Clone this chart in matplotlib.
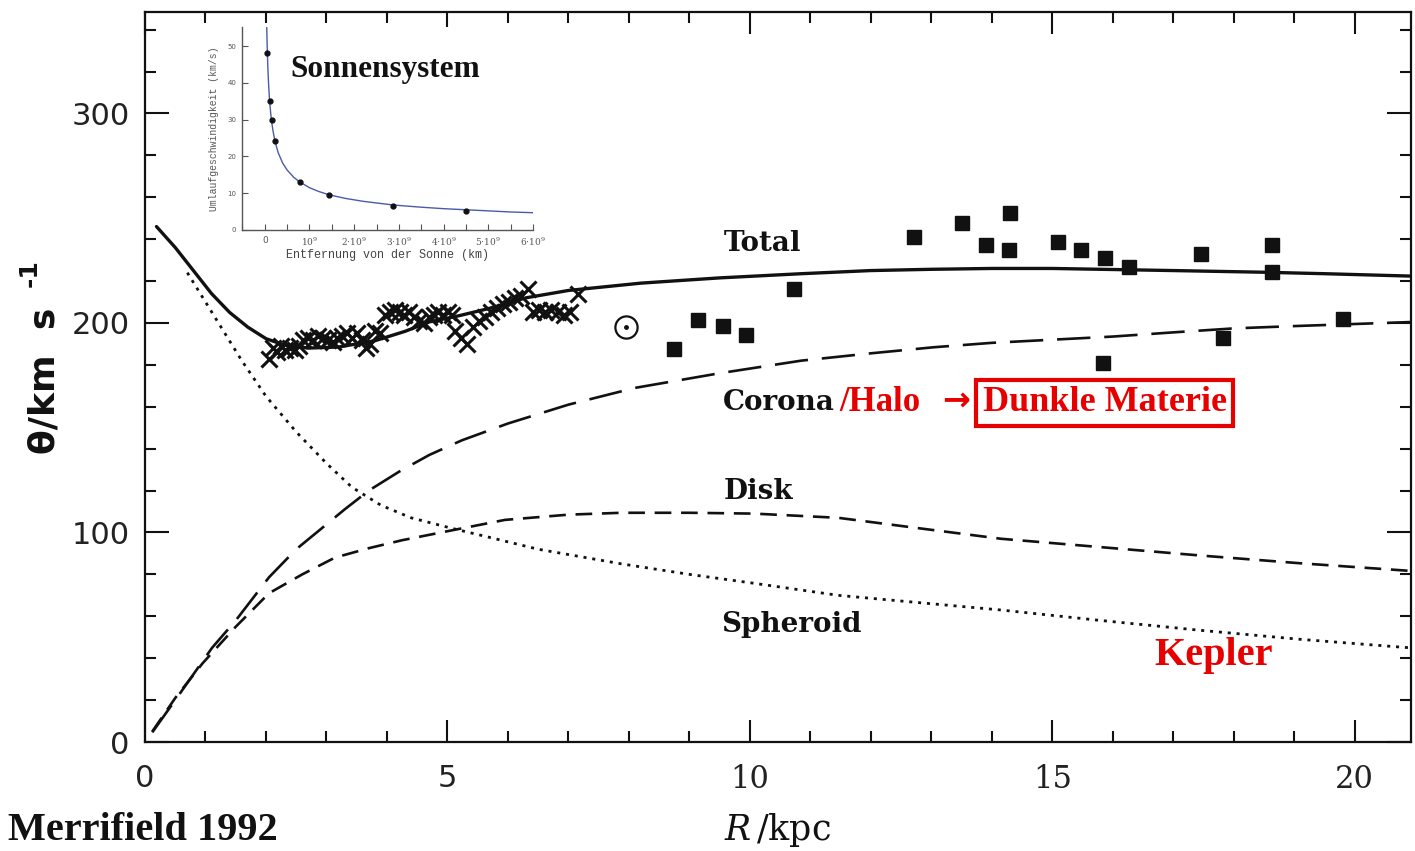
import matplotlib
matplotlib.use("Agg")
import matplotlib.pyplot as plt

plt.rcParams['lines.scale_dashes'] = False
plt.rcParams['mathtext.fontset'] = 'dejavuserif'

# ---------------- data ----------------
total_R = [0.19, 0.5, 0.8, 1.1, 1.4, 1.7, 2.0, 2.3, 2.7, 3.2, 3.8, 4.3, 4.7, 5.2, 5.7, 6.3, 7.0, 8.2,
           9.5, 10.85, 12.0, 13.0, 14.0, 15.0, 15.8, 17.0, 18.5, 19.5, 21.0]
total_v = [246, 236, 225, 214, 205, 198, 192.5, 189.5, 188, 188.5, 191.5, 196, 200.5, 203.5, 207, 212,
           215.5, 219, 221.5, 223.5, 225, 225.6, 226, 226, 225.6, 225, 224.2, 223.5, 222.3]

corona_R = [0.12, 0.5, 1.11, 1.5, 2.05, 2.5, 2.88, 3.3, 3.7, 4.2, 4.7, 5.24, 6.0, 7.0, 8.1, 9.5, 10.85,
            12.0, 13.04, 14.0, 15.0, 16.0, 17.0, 18.0, 19.0, 20.0, 21.0]
corona_v = [4.6, 20, 45, 58, 78.6, 92, 101, 111, 120, 129, 137, 144, 152, 161, 169, 176, 182,
            185.5, 188.4, 190.5, 192, 193.5, 195.5, 197.4, 198.5, 199.5, 200.5]

disk_R = [0.12, 0.5, 0.95, 1.5, 2.05, 2.6, 3.14, 3.7, 4.25, 5.07, 5.95, 7.0, 7.88, 9.0, 10.07, 11.46,
          12.8, 14.15, 15.8, 17.45, 19.1, 20.75, 21.0]
disk_v = [5, 21, 37.5, 55, 71, 80, 88, 92.5, 96.3, 101, 106, 108.5, 109.4, 109.4, 109, 107,
          102, 97, 93, 89, 85.3, 82, 81.5]

spher_R = [0.7, 1.0, 1.3, 1.6, 2.0, 2.5, 3.0, 3.42, 3.9, 4.4, 5.07, 5.69, 6.5, 7.88, 9.0, 10.08, 11.46,
           12.8, 14.15, 15.8, 17.45, 19.1, 20.8, 21.0]
spher_v = [224, 210, 196, 182, 165, 148, 133, 121.6, 113, 107, 102, 97.7, 92, 85, 80, 75.7, 70,
           66.5, 63, 58, 53.3, 49, 45.2, 44.8]

cross_R = [2.05, 2.12, 2.18, 2.25, 2.32, 2.40, 2.48, 2.55, 2.62, 2.70, 2.78, 2.86, 2.94, 3.02, 3.10,
           3.18, 3.26, 3.34, 3.42, 3.50, 3.58, 3.66, 3.72, 3.80, 3.88, 3.97, 4.05, 4.13, 4.21, 4.29,
           4.37, 4.45, 4.53, 4.61, 4.69, 4.77, 4.85, 4.93, 5.01, 5.08, 5.12, 5.22, 5.32, 5.42, 5.52,
           5.62, 5.72, 5.82, 5.92, 6.02, 6.12, 6.22, 6.34, 6.42, 6.52, 6.62, 6.72, 6.82, 6.92, 7.02, 7.16]
cross_v = [183, 188, 186, 189, 187, 188, 187, 189, 192, 193, 192, 194, 193, 192, 191,
           193, 194, 195, 193, 195, 192, 188, 190, 196, 195, 204, 205, 206, 205, 204,
           205, 203, 201, 200, 203, 204, 205, 204, 205, 204, 196, 193, 190, 198, 201,
           203, 205, 207, 209, 210, 212, 213, 216, 205, 206, 205, 206, 205, 204, 205, 214]

square_R = [8.75, 9.15, 9.55, 9.93, 10.73, 12.72, 13.51, 13.9, 14.3, 14.28, 15.09, 15.47, 15.87,
            16.26, 15.83, 17.45, 18.64, 18.64, 17.83, 19.81]
square_v = [187.4, 201.6, 198.5, 194.1, 216, 240.8, 247.6, 237.1, 252.7, 234.7, 238.5, 234.7, 230.8,
            226.5, 180.8, 232.7, 237.1, 224.2, 192.7, 201.7]

sun_R = [7.95]
sun_v = [197.9]

# inset: solar system (distance in 1e9 km, speed in km/s)
planet_d = [0.058, 0.108, 0.150, 0.228, 0.778, 1.43, 2.87, 4.50]
planet_v = [48.2, 35.2, 30.0, 24.3, 13.0, 9.5, 6.6, 5.3]
kep_d = [0.044, 0.05, 0.058, 0.07, 0.085, 0.108, 0.13, 0.15, 0.18, 0.228, 0.3, 0.4, 0.5, 0.65, 0.778,
         1.0, 1.2, 1.43, 1.8, 2.2, 2.87, 3.5, 4.0, 4.5, 5.0, 5.5, 6.0]
kep_v = [55.0, 51.6, 47.9, 43.6, 39.6, 35.0, 32.0, 29.8, 27.2, 24.1, 21.0, 18.2, 16.3, 14.3, 13.1,
         11.5, 10.5, 9.6, 8.6, 7.8, 6.8, 6.2, 5.8, 5.5, 5.2, 4.9, 4.7]

xticks_main = [0, 5, 10, 15, 20]
xtick_labels = ['0', '5', '10', '15', '20']
yticks_main = [0, 100, 200, 300]
inset_xticks = [0, 1, 2, 3, 4, 5, 6]
inset_xlabels = ['0', r'$10^9$', r'$2{\cdot}10^9$', r'$3{\cdot}10^9$', r'$4{\cdot}10^9$',
                 r'$5{\cdot}10^9$', r'$6{\cdot}10^9$']
inset_yticks = [0, 10, 20, 30, 40, 50]

# ---------------- figure ----------------
W, H = 1415, 851
fig = plt.figure(figsize=(W / 100, H / 100), dpi=100)
fig.patch.set_facecolor('white')

ax = fig.add_axes([145 / W, 1 - 742 / H, (1411 - 145) / W, (742 - 12) / H])
ax.set_xlim(0.04, 20.93)
ax.set_ylim(0, 348.4)

ink = '#111111'
ax.plot(total_R, total_v, color=ink, lw=2.4, solid_capstyle='round')
ax.plot(corona_R, corona_v, color=ink, lw=1.9, dashes=(24, 10))
ax.plot(disk_R, disk_v, color=ink, lw=1.9, dashes=(12, 7))
ax.plot(spher_R, spher_v, color=ink, lw=2.0, dashes=(2.2, 4.2))
ax.plot(cross_R, cross_v, ls='none', marker='x', ms=12, mew=2.2, color=ink)
ax.plot(square_R, square_v, ls='none', marker='s', ms=9.5, color=ink)
ax.plot(sun_R, sun_v, ls='none', marker='o', ms=16, mfc='none', mew=1.6, color=ink)
ax.plot(sun_R, sun_v, ls='none', marker='o', ms=2.5, color=ink)

for s in ax.spines.values():
    s.set_linewidth(1.6)
    s.set_color(ink)

ax.set_xticks(xticks_main)
ax.set_xticklabels(xtick_labels)
ax.set_xticks(range(0, 21), minor=True)
ax.set_yticks(yticks_main)
ax.set_yticks(range(0, 341, 20), minor=True)
ax.tick_params(which='both', direction='in', top=True, right=True, color=ink, width=1.5)
ax.tick_params(which='major', axis='x', length=16, labelsize=22, pad=16)
ax.tick_params(which='minor', axis='x', length=8)
ax.tick_params(which='major', axis='y', length=17, labelsize=22, pad=11)
ax.tick_params(which='minor', axis='y', length=8)
for lab in ax.get_yticklabels():
    lab.set_family('DejaVu Sans')
    lab.set_color('#222222')
for lab in ax.get_xticklabels():
    if lab.get_text() in ('0', '5'):
        lab.set_family('DejaVu Sans')
    else:
        lab.set_family('DejaVu Serif')
    lab.set_color('#222222')

serif = 'DejaVu Serif'
ax.text(9.56, 238, 'Total', fontsize=20, fontweight='bold', family=serif, color=ink, ha='left', va='center')
ax.text(9.56, 162, 'Corona', fontsize=20, fontweight='bold', family=serif, color=ink, ha='left', va='center')
red = '#e60000'
ax.text(11.48, 162, '/Halo', fontsize=25, fontweight='bold', family='Liberation Serif',
        color=red, ha='left', va='center')
ax.text(13.18, 163, '\u2192', fontsize=24, fontweight='bold', family='DejaVu Sans',
        color=red, ha='left', va='center')
ax.text(13.85, 162, 'Dunkle Materie', fontsize=26, fontweight='bold', family='Liberation Serif',
        color=red, ha='left', va='center',
        bbox=dict(boxstyle='square,pad=0.18', fc='none', ec=red, lw=3))
ax.text(9.56, 119.7, 'Disk', fontsize=20, fontweight='bold', family=serif, color=ink, ha='left', va='center')
ax.text(9.53, 56.2, 'Spheroid', fontsize=20, fontweight='bold', family=serif, color=ink, ha='left', va='center')
ax.text(17.67, 41.4, 'Kepler', fontsize=29, fontweight='bold', family='Liberation Serif', color=red,
        ha='center', va='center')

fig.text(45 / W, 1 - 381 / H, '\u03b8/km  s', rotation=90, fontsize=26, fontweight='bold',
         family='DejaVu Sans', color=ink, ha='center', va='center')
fig.text(30 / W, 1 - 273 / H, '-1', rotation=90, fontsize=18, fontweight='bold',
         family='DejaVu Sans', color=ink, ha='center', va='center')
fig.text(778 / W, 1 - 830 / H, r'$R\,$/kpc', fontsize=25, family=serif, color=ink, ha='center', va='center')
fig.text(8 / W, 1 - 830 / H, 'Merrifield 1992', fontsize=29, fontweight='bold', family='Liberation Serif',
         color=ink, ha='left', va='center')

# ---------------- inset ----------------
iax = fig.add_axes([242 / W, 1 - 230 / H, 291 / W, 203 / H])
iax.set_xlim(-0.51, 6.0)
iax.set_ylim(0, 55.2)
iax.plot(kep_d, kep_v, color='#4a5ba8', lw=1.0)
iax.plot(planet_d, planet_v, ls='none', marker='o', ms=3.5, color='#111111')
for k in ('top', 'right'):
    iax.spines[k].set_visible(False)
for k in ('left', 'bottom'):
    iax.spines[k].set_linewidth(1.0)
    iax.spines[k].set_color('#555555')
iax.set_xticks(inset_xticks)
iax.set_xticklabels(inset_xlabels)
iax.set_xticks([-0.5, 0.5, 1.5, 2.5, 3.5, 4.5, 5.5], minor=True)
iax.set_yticks(inset_yticks)
iax.tick_params(which='both', direction='in', length=4, width=0.8, color='#555555',
                labelsize=6.5, labelcolor='#555555', pad=4)
for lab in iax.get_yticklabels():
    lab.set_fontsize(5)
iax.set_xlabel('Entfernung von der Sonne (km)', fontsize=8.5, family='Liberation Mono', color='#444444',
               labelpad=1)
iax.set_ylabel('Umlaufgeschwindigkeit (km/s)', fontsize=7, family='Liberation Mono', color='#555555',
               labelpad=6)
fig.text(290 / W, 1 - 70 / H, 'Sonnensystem', fontsize=22.5, fontweight='bold', family='Liberation Serif',
         color=ink, ha='left', va='center')

fig.savefig('out.png', dpi=100)
